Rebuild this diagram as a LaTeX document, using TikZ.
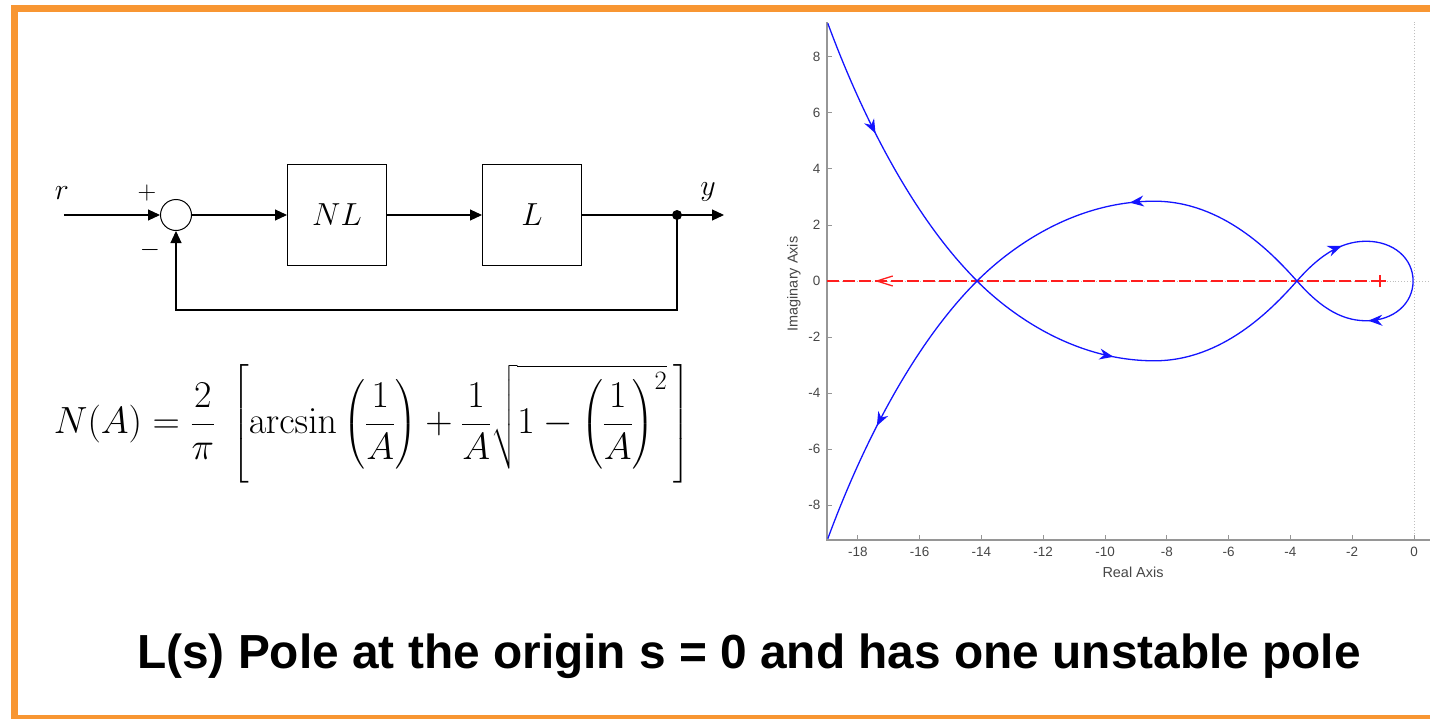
\RequirePackage{fix-cm}
\documentclass[tikz,border=0pt]{standalone}
\usepackage{amsmath}
\usepackage[no-math]{fontspec}
\newfontfamily\slidefont{Liberation Sans}
\usetikzlibrary{arrows.meta,positioning,decorations.markings}
\definecolor{framec}{RGB}{248,150,50}
\definecolor{axisc}{RGB}{150,150,150}
\definecolor{tickc}{RGB}{70,70,70}
\definecolor{gridc}{RGB}{190,190,190}
\definecolor{locusc}{RGB}{20,20,255}
\definecolor{rlinec}{RGB}{255,30,30}
\tikzset{
  blockbox/.style={draw, line width=1bp, minimum width=99bp, minimum height=100bp, font=\fontsize{32}{38}\selectfont},
  sumnode/.style={draw, circle, line width=1bp, minimum size=31bp},
  sigtext/.style={font=\fontsize{30}{36}\selectfont},
  ticklabel/.style={font=\slidefont\fontsize{13.5}{16}\selectfont, text=tickc, inner sep=0pt},
  locus/.style={locusc, line width=1.3bp},
  arrowat/.style={postaction={decorate, decoration={markings, mark=at position #1 with {\arrow{Stealth[length=14bp,width=11bp]}}}}}
}
\begin{document}
\begin{tikzpicture}[x=1bp, y=-1bp, >={Triangle[length=12bp,width=11bp]}, line width=1.1bp]
  \useasboundingbox (0,0) rectangle (1430,719);
  \fill[framec] (11,5) rectangle (1430,12);
  \fill[framec] (11,5) rectangle (18,719);
  \fill[framec] (11,715) rectangle (1430,719);

  \node[sumnode] (sum) at (176,215) {};
  \node[blockbox, right=95bp of sum] (nl) {$NL$};
  \node[blockbox, right=95bp of nl] (lin) {$L$};
  \coordinate[right=95bp of lin] (tap);
  \coordinate[right=47bp of tap] (yout);
  \coordinate[left=96bp of sum] (rin);
  \coordinate[below=95bp of tap] (fb);
  \node[circle, fill, inner sep=0pt, minimum size=10bp] (tapdot) at (tap) {};
  \node[sigtext] (rlab) at (62,193) {$r$};
  \node[sigtext] (ylab) at (708,192) {$y$};
  \node[font=\fontsize{26}{30}\selectfont] (plus) at (147,193) {$+$};
  \node[font=\fontsize{26}{30}\selectfont] (minus) at (150,250) {$-$};
  \draw[->] (rin) -- (sum);
  \draw[->] (sum) -- (nl);
  \draw[->] (nl) -- (lin);
  \draw (lin) -- (tap);
  \draw[->] (tap) -- (yout);
  \draw[->] (tap) -- (fb) -| (sum.south);

  \node[font=\fontsize{38}{46}\selectfont] (nfun) at (372,424)
    {$\displaystyle N(A)=\frac{2}{\pi}\;\left[\arcsin\left(\frac{1}{A}\right)+\frac{1}{A}\sqrt{1-\left(\frac{1}{A}\right)^2}\,\right]$};

  \begin{scope}[shift={(1414,281)}, x=30.9bp, y=28bp]
    \draw[gridc, dotted, line width=1bp] (-19,0) -- (0.52,0);
    \draw[gridc, dotted, line width=1bp] (0,-9.25) -- (0,9.25);
    \draw[axisc, line width=1.2bp] (-19,9.25) -- (-19,-9.25) -- (0.52,-9.25);
    \foreach \t in {-18,-16,...,0} {
      \draw[axisc, line width=1bp] (\t,-9.25) -- ++(0,5bp);
      \node[ticklabel, below=7bp] (xt\t) at (\t,-9.25) {\t};
    }
    \foreach \t in {-8,-6,...,8} {
      \draw[axisc, line width=1bp] (-19,\t) -- ++(5bp,0);
      \node[ticklabel, left=6bp] (yt\t) at (-19,\t) {\t};
    }
    \draw[rlinec, line width=1.5bp, dash pattern=on 12bp off 4bp] (-19,0) -- (-1.1,0);
    \draw[rlinec, line width=1.3bp] ([yshift=5bp]-16.87,0) -- (-17.38,0) -- ([yshift=-5bp]-16.87,0);
    \draw[rlinec, line width=1.5bp] ([xshift=-6bp]-1.1,0) -- ([xshift=6bp]-1.1,0)
      ([yshift=-6bp]-1.1,0) -- ([yshift=6bp]-1.1,0);

    \coordinate (lx) at (-14.14,0);
    \coordinate (rx) at (-3.79,0);
    \draw[locus, arrowat=0.4] (-18.97,9.2) .. controls (-17.8,5.7) and (-16.14,2.2) .. (lx);
    \draw[locus, arrowat=0.43] (lx) .. controls (-12.94,-1.32) and (-10.9,-2.85) .. (-8.4,-2.85)
      .. controls (-6.2,-2.85) and (-4.59,-1.0) .. (rx);
    \draw[locus, arrowat=0.19, arrowat=0.72] (rx) .. controls (-3.15,0.8) and (-2.45,1.42) .. (-1.55,1.42)
      .. controls (-0.65,1.42) and (-0.03,0.8) .. (-0.03,0)
      .. controls (-0.03,-0.8) and (-0.65,-1.42) .. (-1.55,-1.42)
      .. controls (-2.45,-1.42) and (-3.15,-0.8) .. (rx);
    \draw[locus, arrowat=0.525] (rx) .. controls (-4.59,1.0) and (-6.2,2.85) .. (-8.4,2.85)
      .. controls (-10.9,2.85) and (-12.94,1.32) .. (lx);
    \draw[locus, arrowat=0.59] (lx) .. controls (-16.14,-2.2) and (-17.8,-5.7) .. (-18.97,-9.2);
  \end{scope}
  \node[ticklabel, font=\slidefont\fontsize{14.5}{17}\selectfont, rotate=90] (imlab) at (794,284) {Imaginary Axis};
  \node[ticklabel, font=\slidefont\fontsize{14.5}{17}\selectfont] (relab) at (1133,572) {Real Axis};

  \node[font=\slidefont\bfseries\fontsize{48}{56}\selectfont] (title) at (749,656)
    {L(s) Pole at the origin s = 0 and has one unstable pole};
\end{tikzpicture}
\end{document}
